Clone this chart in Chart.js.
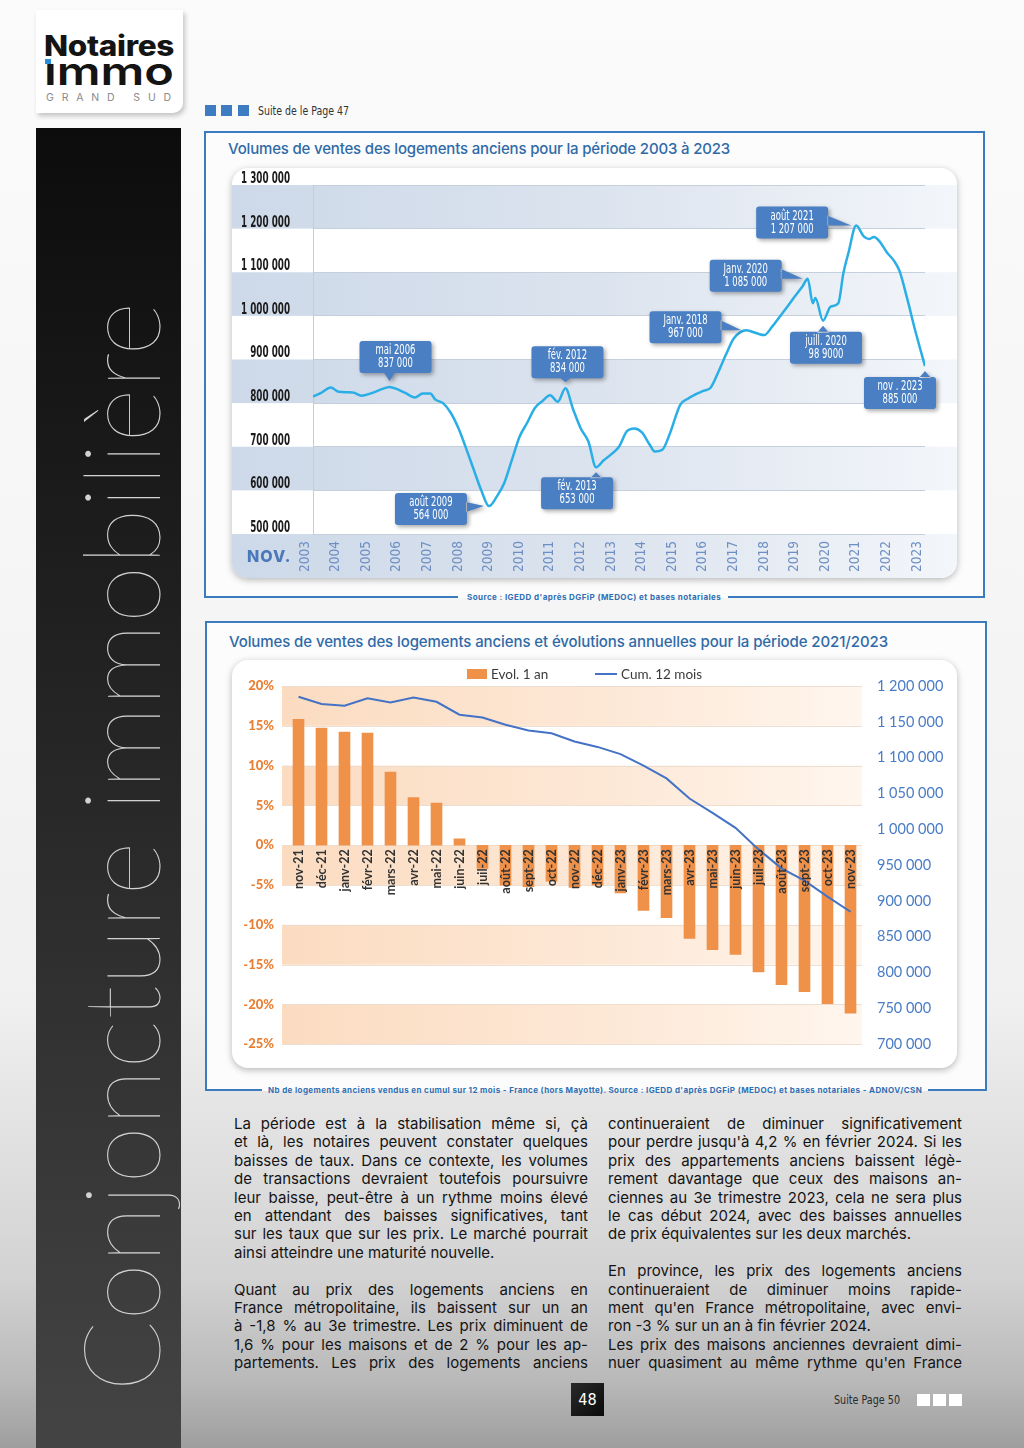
<!DOCTYPE html>
<html lang="fr"><head><meta charset="utf-8">
<script src="https://cdn.jsdelivr.net/npm/chart.js@4.4.1/dist/chart.umd.min.js"></script>
<style>
html,body{margin:0;padding:0;background:#fff;}
#page{position:relative;width:1024px;height:1448px;overflow:hidden;
 background:linear-gradient(to bottom,#fbfbfb 0,#f5f5f6 600px,#f0f0f1 1000px,#e2e2e3 1130px,#d2d2d3 1280px,#b9b9ba 1380px,#9e9e9f 1448px);
 font-family:Inter,'Open Sans',sans-serif;}
.abs{position:absolute;}
.narrow{font-family:'Liberation Sans Narrow','DejaVu Sans Condensed','Roboto Condensed',sans-serif;}
#logo{left:36px;top:10px;width:147px;height:103px;background:#fff;border-radius:0 0 10px 0;box-shadow:2px 3px 5px rgba(0,0,0,0.22);}
#sidebar{left:36px;top:128px;width:145px;height:1320px;background:linear-gradient(to bottom,#0c0c0c 0,#1f1f1f 35%,#333 70%,#444 100%);}
#sidetext{position:absolute;white-space:nowrap;transform-origin:0 0;transform:rotate(-90deg);color:#d2d2d2;font-family:Lato,Roboto,sans-serif;font-weight:100;}
.sq{position:absolute;width:11px;height:11px;}
.box{position:absolute;border:2px solid #3c7bbd;border-bottom:none;background:#fcfcfd;box-sizing:border-box;}
.title{position:absolute;white-space:nowrap;color:#2f6aa7;font-size:15px;line-height:18px;font-weight:500;}
.card{position:absolute;background:#fff;border-radius:16px;box-shadow:0 2px 7px rgba(0,0,0,0.28);overflow:hidden;}
.src{position:absolute;white-space:nowrap;color:#2f6fb3;font-size:8px;font-weight:700;line-height:10px;}
.seg{position:absolute;height:2px;background:#3c7bbd;}
.col{position:absolute;width:354px;font-size:15px;line-height:18.4px;color:#141414;}
.col div{white-space:nowrap;height:18.4px;}
.leg{position:absolute;font-family:Lato,'Open Sans',sans-serif;font-size:13.5px;color:#3b3b3b;line-height:16px;white-space:nowrap;}
</style></head>
<body><div id="page">

<div id="logo" class="abs"></div>
<div id="logoN" class="abs" style="left:44px;top:30px;font-size:28px;font-weight:800;color:#141414;line-height:32px;white-space:nowrap;letter-spacing:-0.3px">Notaires</div>
<div id="logoI" class="abs" style="left:44px;top:50px;font-size:38px;font-weight:600;color:#141414;line-height:42px;white-space:nowrap">ımmo</div>
<div class="abs" style="left:45px;top:59px;width:6px;height:5px;background:#2a8fd8"></div>
<div id="logoG" class="abs" style="left:46px;top:92px;font-size:10.5px;color:#8b8b8b;line-height:12px;white-space:nowrap;letter-spacing:6.6px">GRAND SUD</div>

<div class="sq" style="left:205px;top:105px;background:#3d7cc0"></div>
<div class="sq" style="left:221px;top:105px;background:#3d7cc0"></div>
<div class="sq" style="left:238px;top:105px;background:#3d7cc0"></div>
<div id="suite1" class="abs narrow" style="left:258px;top:104px;font-size:12.5px;line-height:14px;color:#333;white-space:nowrap">Suite de le Page 47</div>

<div id="sidebar" class="abs"></div>
<div id="sidetext">Conjoncture immobilière</div>

<!-- Chart 1 box -->
<div class="box" style="left:204px;top:131px;width:781px;height:467px"></div>
<div class="seg" style="left:204px;top:596px;width:254px"></div>
<div class="seg" style="left:728px;top:596px;width:257px"></div>
<div id="t1" class="title" style="left:228px;top:140px">Volumes de ventes des logements anciens pour la période 2003 à 2023</div>
<div class="card" style="left:232px;top:168px;width:725px;height:410px"><canvas id="c1"></canvas>
 <div class="abs" style="left:15px;top:378px;font-size:16px;font-weight:800;color:#4a78b8;letter-spacing:1px;line-height:20px">NOV.</div>
</div>
<div id="s1" class="src" style="left:467px;top:592px">Source : IGEDD d'après DGFiP (MEDOC) et bases notariales</div>

<!-- Chart 2 box -->
<div class="box" style="left:205px;top:621px;width:782px;height:470px"></div>
<div class="seg" style="left:205px;top:1089px;width:57px"></div>
<div class="seg" style="left:928px;top:1089px;width:59px"></div>
<div id="t2" class="title" style="left:229px;top:633px">Volumes de ventes des logements anciens et évolutions annuelles pour la période 2021/2023</div>
<div class="card" style="left:232px;top:660px;width:725px;height:408px"><canvas id="c2"></canvas>
 <div class="abs" style="left:235px;top:9px;width:20px;height:10px;background:#f0914a"></div>
 <div class="leg" style="left:259px;top:6px">Evol. 1 an</div>
 <div class="abs" style="left:363px;top:13px;width:22px;height:2px;background:#4472c4"></div>
 <div class="leg" style="left:389px;top:6px">Cum. 12 mois</div>
</div>
<div id="s2" class="src" style="left:268px;top:1085px">Nb de logements anciens vendus en cumul sur 12 mois - France (hors Mayotte). Source : IGEDD d'après DGFiP (MEDOC) et bases notariales - ADNOV/CSN</div>

<!-- Text columns -->
<div class="col" style="left:234px;top:1115px">
<div class="j">La période est à la stabilisation même si, çà</div>
<div class="j">et là, les notaires peuvent constater quelques</div>
<div class="j">baisses de taux. Dans ce contexte, les volumes</div>
<div class="j">de transactions devraient toutefois poursuivre</div>
<div class="j">leur baisse, peut-être à un rythme moins élevé</div>
<div class="j">en attendant des baisses significatives, tant</div>
<div class="j">sur les taux que sur les prix. Le marché pourrait</div>
<div>ainsi atteindre une maturité nouvelle.</div>
<div></div>
<div class="j">Quant au prix des logements anciens en</div>
<div class="j">France métropolitaine, ils baissent sur un an</div>
<div class="j">à -1,8 % au 3e trimestre. Les prix diminuent de</div>
<div class="j">1,6 % pour les maisons et de 2 % pour les ap-</div>
<div class="j">partements. Les prix des logements anciens</div>
</div>
<div class="col" style="left:608px;top:1115px">
<div class="j">continueraient de diminuer significativement</div>
<div class="j">pour perdre jusqu'à 4,2 % en février 2024. Si les</div>
<div class="j">prix des appartements anciens baissent légè-</div>
<div class="j">rement davantage que ceux des maisons an-</div>
<div class="j">ciennes au 3e trimestre 2023, cela ne sera plus</div>
<div class="j">le cas début 2024, avec des baisses annuelles</div>
<div>de prix équivalentes sur les deux marchés.</div>
<div></div>
<div class="j">En province, les prix des logements anciens</div>
<div class="j">continueraient de diminuer moins rapide-</div>
<div class="j">ment qu'en France métropolitaine, avec envi-</div>
<div>ron -3 % sur un an à fin février 2024.</div>
<div class="j">Les prix des maisons anciennes devraient dimi-</div>
<div class="j">nuer quasiment au même rythme qu'en France</div>
</div>

<div class="abs narrow" style="left:571px;top:1383px;width:33px;height:33px;background:linear-gradient(135deg,#2a2a2a,#0a0a0a);color:#fff;font-size:16px;line-height:33px;text-align:center">48</div>
<div id="suite2" class="abs narrow" style="left:834px;top:1393px;font-size:12.5px;line-height:14px;color:#2a2a2a;white-space:nowrap">Suite Page 50</div>
<div class="sq" style="left:917px;top:1394px;width:13px;height:12px;background:#fff"></div>
<div class="sq" style="left:933px;top:1394px;width:13px;height:12px;background:#fff"></div>
<div class="sq" style="left:949px;top:1394px;width:13px;height:12px;background:#fff"></div>

</div>
<script>
// ================= DATA: chart 1 (volumes 2003-2023, cumul 12 mois) =================
const volDates = ["2003-11","2004-02","2004-06","2004-09","2005-01","2005-03","2005-06","2005-10","2006-02","2006-05",
 "2006-08","2006-11","2007-03","2007-06","2007-09","2007-11","2008-02","2008-05","2008-08","2008-11",
 "2009-02","2009-05","2009-08","2009-11","2010-02","2010-05","2010-08","2010-11","2011-02","2011-05",
 "2011-08","2011-11","2012-02","2012-05","2012-08","2012-11","2013-02","2013-05","2013-08","2013-11",
 "2014-02","2014-05","2014-08","2014-11","2015-01","2015-04","2015-07","2015-11","2016-02","2016-05",
 "2016-08","2016-11","2017-02","2017-05","2017-08","2018-01","2018-05","2018-08","2018-11","2019-02",
 "2019-05","2019-08","2019-11","2020-01","2020-03","2020-04","2020-07","2020-10","2021-01","2021-03",
 "2021-05","2021-08","2021-11","2022-01","2022-03","2022-05","2022-08","2022-11","2023-01","2023-04",
 "2023-07","2023-11"];
const volValues = [815000,823000,836000,826000,825000,824000,817000,823000,832000,837000,
 832000,824000,813000,822000,822000,808000,800000,778000,743000,697000,
 648000,600000,564000,585000,617000,670000,723000,755000,789000,805000,
 818000,803000,834000,786000,742000,712000,653000,669000,683000,700000,
 735000,742000,733000,705000,689000,693000,731000,796000,810000,820000,
 828000,836000,872000,912000,948000,967000,960000,956000,975000,998000,
 1021000,1045000,1068000,1085000,1029000,1041000,989000,1021000,1029000,1098000,
 1145000,1207000,1182000,1176000,1181000,1172000,1146000,1125000,1103000,1040000,
 970000,885000];
const yearTickStart = 2003;
// callouts
const annotDates  = ["2006-05","2009-08","2012-02","2013-02","2018-01","2020-01","2020-07","2021-08","2023-11"];
const annotValues = [837000,564000,834000,653000,967000,1085000,989000,1207000,885000];
const annotTitles = ["mai 2006","août 2009","fév. 2012","fév. 2013","Janv. 2018","Janv. 2020","juill. 2020","août 2021","nov . 2023"];
const annotLabels = ["837 000","564 000","834 000","653 000","967 000","1 085 000","98 9000","1 207 000","885 000"];

// ================= DATA: chart 2 (2021/2023) =================
const months2 = ["nov-21","déc-21","janv-22","févr-22","mars-22","avr-22","mai-22","juin-22","juil-22","août-22",
 "sept-22","oct-22","nov-22","déc-22","janv-23","févr-23","mars-23","avr-23","mai-23","juin-23",
 "juil-23","août-23","sept-23","oct-23","nov-23"];
const evol1an = [15.8,14.7,14.2,14.1,9.2,6.0,5.3,0.8,-2.9,-5.0,-5.2,-4.5,-5.3,-5.0,-6.0,-8.2,-9.1,-11.7,-13.1,-13.7,-15.9,-17.5,-18.4,-19.9,-21.1];
const cum12mois = [1185000,1175000,1172500,1183000,1177000,1184000,1178000,1160000,1156000,1146000,
 1138000,1134000,1122500,1115000,1105000,1089000,1071000,1043000,1023000,1002000,
 972000,945500,928500,906000,885000];

// ================= layout / style (not data) =================
const calloutLayout = [
 {dx:6,dy:-30,side:'bottom'},{dx:-58,dy:3,side:'right'},{dx:2,dy:-26,side:'bottom'},
 {dx:-19,dy:26,side:'top'},{dx:-61,dy:-3,side:'right'},{dx:-62,dy:-3,side:'right'},
 {dx:3,dy:27,side:'top'},{dx:-64,dy:-3,side:'right'},{dx:-25,dy:27,side:'top'}];
const NARROW = "'Liberation Sans Narrow','DejaVu Sans Condensed','Roboto Condensed',sans-serif";
const LATO = "Lato,'Open Sans',sans-serif";

function toT(d){const [y,m]=d.split('-').map(Number);return ((y-2003)*12+(m-11))/12;}
function fmt(v){return String(v).replace(/\B(?=(\d{3})+(?!\d))/g,' ');}

Chart.defaults.animation = false;

// condensed text helper (horizontal squeeze)
function squeezedText(ctx,text,x,y,sx,align){
  ctx.save();ctx.translate(x,y);ctx.scale(sx,1);ctx.textAlign=align;ctx.fillText(text,0,0);ctx.restore();
}

// ---------- Chart 1 ----------
const bands1 = {
 id:'bands1',
 beforeDraw(chart){
  const {ctx,chartArea,scales:{y},width,height}=chart;
  ctx.save();
  const g=ctx.createLinearGradient(0,0,width,0);
  g.addColorStop(0,'#cdd9e9');g.addColorStop(0.5,'#dbe3ee');g.addColorStop(1,'#f3f6fa');
  ctx.fillStyle=g;
  const ticks=y.ticks.map(t=>t.value);
  for(let i=0;i<ticks.length-1;i++){
    if(i%2===1){const a=y.getPixelForValue(ticks[i]),b=y.getPixelForValue(ticks[i+1]);ctx.fillRect(0,b,width,a-b);}
  }
  ctx.fillRect(0,chartArea.bottom,width,height-chartArea.bottom);
  ctx.restore();
 },
 afterDraw(chart){
  // y tick labels (condensed bold), taken from the scale's own ticks
  const {ctx,chartArea,scales:{y}}=chart;
  ctx.save();
  ctx.font='bold 15px '+NARROW;ctx.fillStyle='#1b1b1b';ctx.textBaseline='middle';
  const sx=Math.min(1,49/ctx.measureText(fmt(y.max)).width);
  y.ticks.forEach(t=>squeezedText(ctx,fmt(t.value),chartArea.left-23,y.getPixelForValue(t.value)-6,sx,'right'));
  ctx.restore();
 }
};
const callouts = {
 id:'callouts',
 afterDatasetsDraw(chart){
  const {ctx,scales:{x,y}}=chart;
  annotDates.forEach((d,i)=>{
   const px=x.getPixelForValue(toT(d)), py=y.getPixelForValue(annotValues[i]);
   const L0=calloutLayout[i]; const w=72,h=32;
   const cx=px+L0.dx, cy=py+L0.dy;
   const l=cx-w/2,t=cy-h/2,r=cx+w/2,b=cy+h/2;
   ctx.save();
   ctx.fillStyle='#4a80c3';
   ctx.shadowColor='rgba(0,0,0,0.35)';ctx.shadowBlur=4;ctx.shadowOffsetX=2;ctx.shadowOffsetY=2;
   ctx.beginPath();
   ctx.roundRect(l,t,w,h,3);
   const bx=Math.min(Math.max(px,l+9),r-9);
   if(L0.side==='bottom'){ctx.moveTo(bx-6,b-1);ctx.lineTo(bx+6,b-1);ctx.lineTo(px,py-6);}
   else if(L0.side==='top'){ctx.moveTo(bx-6,t+1);ctx.lineTo(bx+6,t+1);ctx.lineTo(px,py+5);}
   else {ctx.moveTo(r-1,cy-7);ctx.lineTo(r-1,cy+3);ctx.lineTo(px-5,py);}
   ctx.closePath();
   ctx.fill();
   ctx.shadowColor='transparent';
   ctx.fillStyle='#fff';ctx.textBaseline='middle';
   ctx.font='14px '+NARROW;
   const sx=Math.min(1,43/ctx.measureText('1 085 000').width);
   squeezedText(ctx,annotTitles[i],cx,cy-6.5,sx,'center');
   squeezedText(ctx,annotLabels[i],cx,cy+6.5,sx,'center');
   ctx.restore();
  });
 }
};
new Chart(document.getElementById('c1'),{
 type:'line',
 data:{datasets:[{data:volDates.map((d,i)=>({x:toT(d),y:volValues[i]})),
   borderColor:'#2aaee6',borderWidth:2.5,pointRadius:0,cubicInterpolationMode:'monotone',fill:false}]},
 options:{
  responsive:true,maintainAspectRatio:false,
  layout:{padding:{top:17,right:32,left:0,bottom:0}},
  plugins:{legend:{display:false},tooltip:{enabled:false}},
  scales:{
   x:{type:'linear',min:0,max:20,
      afterFit(s){s.height=44;},
      grid:{display:false,drawTicks:false},border:{display:false},
      ticks:{stepSize:1,autoSkip:false,minRotation:90,maxRotation:90,padding:7,labelOffset:-8,
        color:'#6f8fc3',font:{family:NARROW,size:13.5},callback:v=>String(yearTickStart+v)}},
   y:{min:500000,max:1300000,
      afterFit(s){s.width=81;},
      grid:{color:'#c6d0dd',lineWidth:1,drawTicks:false},
      border:{display:true,color:'#c3ccd9'},
      ticks:{stepSize:100000,display:false}}
  }
 },
 plugins:[bands1,callouts]
});

// ---------- Chart 2 ----------
const bands2 = {
 id:'bands2',
 beforeDraw(chart){
  const {ctx,chartArea,scales:{y}}=chart;
  ctx.save();
  const g=ctx.createLinearGradient(chartArea.left,0,chartArea.right,0);
  g.addColorStop(0,'#fbdcc1');g.addColorStop(0.6,'#fde9d8');g.addColorStop(1,'#fff6ee');
  ctx.fillStyle=g;
  const ticks=y.ticks.map(t=>t.value);
  for(let i=0;i<ticks.length-1;i++){
    if(i%2===0){const a=y.getPixelForValue(ticks[i]),b=y.getPixelForValue(ticks[i+1]);ctx.fillRect(chartArea.left-5,b,chartArea.right-chartArea.left+5,a-b);}
  }
  ctx.strokeStyle='rgba(235,220,205,0.9)';ctx.lineWidth=1;
  ticks.forEach(v=>{const p=Math.round(y.getPixelForValue(v))+0.5;ctx.beginPath();ctx.moveTo(chartArea.left-5,p);ctx.lineTo(chartArea.right,p);ctx.stroke();});
  ctx.restore();
 }
};
new Chart(document.getElementById('c2'),{
 type:'bar',
 data:{labels:months2,datasets:[
  {type:'line',label:'Cum. 12 mois',data:cum12mois,yAxisID:'y1',borderColor:'#4472c4',borderWidth:2,pointRadius:0,tension:0,order:0},
  {type:'bar',label:'Evol. 1 an',data:evol1an,yAxisID:'y',backgroundColor:'#f0914a',barThickness:11,order:1}
 ]},
 options:{
  responsive:true,maintainAspectRatio:false,
  layout:{padding:{top:26,bottom:18,left:0,right:0}},
  plugins:{legend:{display:false},tooltip:{enabled:false}},
  scales:{
   x:{position:{y:0},offset:true,
      grid:{display:false,drawTicks:false},border:{display:false},
      ticks:{z:1,autoSkip:false,minRotation:90,maxRotation:90,padding:4,color:'#333',
        font:{family:LATO,size:12.5,weight:'bold'}}},
   y:{position:'left',min:-25,max:20,
      afterFit(s){s.width=55;},
      grid:{display:false,drawTicks:false},border:{display:false},
      ticks:{stepSize:5,padding:13,color:'#ea7f33',font:{family:LATO,size:13,weight:'900'},callback:v=>v+'%'}},
   y1:{position:'right',min:700000,max:1200000,
      afterFit(s){s.width=95;},
      grid:{display:false,drawTicks:false},border:{display:false},
      ticks:{stepSize:50000,padding:15,color:'#4a7cc6',font:{family:LATO,size:14.5},callback:v=>fmt(v)}}
  }
 },
 plugins:[bands2]
});

// ---------- text fitting ----------
function fitLS(id,w){const el=document.getElementById(id);el.style.display='inline-block';
 const n=el.textContent.length;const cur=el.getBoundingClientRect().width;
 const ls=parseFloat(getComputedStyle(el).letterSpacing)||0;el.style.letterSpacing=(ls+(w-cur)/n)+'px';}
function fitScale(id,w){const el=document.getElementById(id);el.style.display='inline-block';el.style.transformOrigin='0 0';
 const cur=el.getBoundingClientRect().width;el.style.transform='scaleX('+(w/cur)+')';}
fitLS('t1',502);fitLS('t2',659);fitLS('s1',254);fitLS('s2',654);
fitScale('logoN',130);fitScale('logoI',130);fitLS('logoG',133);
fitScale('suite1',91);fitScale('suite2',66);
document.querySelectorAll('.col div.j').forEach(el=>{
 el.style.display='inline-block';const cur=el.getBoundingClientRect().width;
 const sp=(el.textContent.match(/ /g)||[]).length;
 if(sp>0) el.style.wordSpacing=((354-cur)/sp)+'px';
 el.style.display='block';
});
(function(){const el=document.getElementById('sidetext');let fs=100;el.style.fontSize=fs+'px';el.style.lineHeight=fs+'px';
 const w=el.offsetWidth;fs=fs*1090/w;el.style.fontSize=fs+'px';el.style.lineHeight=fs+'px';
 el.style.left=(160-fs*0.887)+'px';el.style.top='1392px';})();
</script>
</body></html>
